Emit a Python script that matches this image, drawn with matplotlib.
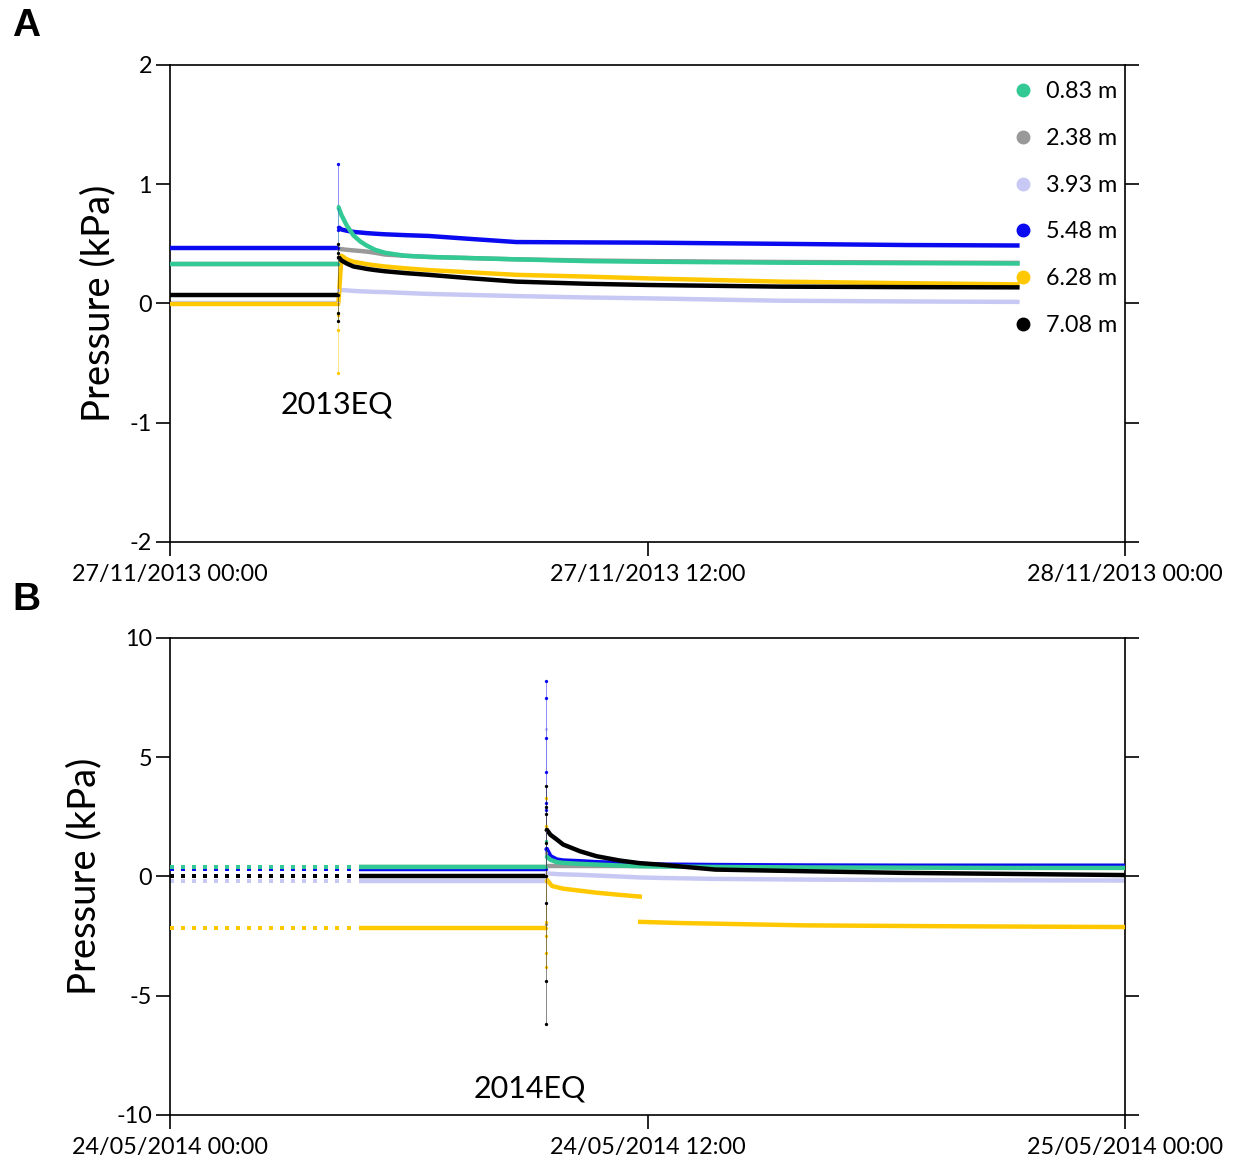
import numpy as np
import matplotlib
matplotlib.use("Agg")
import matplotlib.pyplot as plt
from matplotlib.lines import Line2D

plt.rcParams['font.family'] = ['Lato', 'DejaVu Sans']
plt.rcParams['axes.unicode_minus'] = False

# ---------------- data ----------------
depths = ["0.83 m", "2.38 m", "3.93 m", "5.48 m", "6.28 m", "7.08 m"]
colors = ["#33c994", "#999999", "#c8c8f5", "#0a0af0", "#ffc800", "#000000"]
zorders = [5, 1, 2, 4, 3, 6]

# Panel A (2013 event), time in hours after 27/11/2013 00:00
a_eq = 4.22
a_pre = [0.33, 0.33, 0.00, 0.465, -0.005, 0.075]
a_spike = [
    [0.33, 0.82],
    [0.33, 0.46],
    [0.00, 0.11],
    [0.465, 1.17, 0.64, 0.62],
    [-0.005, -0.22, -0.58, -0.10],
    [0.075, -0.15, -0.08, 0.50, 0.42, 0.39],
]
a_post_t = [4.23, 4.31, 4.44, 4.61, 4.78, 4.94, 5.15, 5.4, 5.9, 6.5, 7.6, 8.7, 10.5, 12.0, 15.35, 18.5, 21.35]
a_post = [
    [0.81, 0.74, 0.655, 0.57, 0.52, 0.486, 0.45, 0.425, 0.40, 0.39, 0.38, 0.37, 0.355, 0.35, 0.342, 0.338, 0.335],
    [0.46, 0.455, 0.45, 0.445, 0.44, 0.435, 0.425, 0.41, 0.40, 0.39, 0.38, 0.37, 0.36, 0.355, 0.348, 0.344, 0.34],
    [0.113, 0.112, 0.11, 0.105, 0.102, 0.10, 0.097, 0.095, 0.088, 0.08, 0.071, 0.062, 0.05, 0.043, 0.023, 0.017, 0.013],
    [0.64, 0.62, 0.61, 0.60, 0.595, 0.59, 0.585, 0.58, 0.573, 0.566, 0.54, 0.515, 0.512, 0.51, 0.50, 0.49, 0.486],
    [0.0, 0.40, 0.37, 0.35, 0.34, 0.33, 0.32, 0.31, 0.295, 0.28, 0.26, 0.24, 0.225, 0.21, 0.183, 0.17, 0.16],
    [0.39, 0.36, 0.335, 0.31, 0.30, 0.29, 0.28, 0.27, 0.255, 0.24, 0.21, 0.183, 0.165, 0.155, 0.141, 0.137, 0.135],
]

# Panel B (2014 event), time in hours after 24/05/2014 00:00
b_eq = 9.44
b_dot_t = np.arange(0.04, 4.55, 0.2778)   # 1000 s sampling in the early record
b_solid_start = 4.75
b_pre = [0.38, 0.38, -0.17, 0.31, -2.17, 0.0]
b_spike = [
    [0.38, 1.5, 0.85],
    [0.38, -2.0, 1.0, 0.45],
    [-0.17, 6.2, 0.13],
    [0.31, 8.2, 7.5, 5.8, 4.4, 3.1, 2.8, 1.2],
    [-2.17, 3.3, 2.1, -1.9, -2.5, -3.2, -3.8, -0.2],
    [0.0, 3.8, 2.9, 2.6, 1.4, -1.1, -4.4, -6.2, 2.0],
]
b_post_t = [9.45, 9.56, 9.72, 9.88, 10.3, 10.72, 11.3, 11.8, 12.3, 13.7, 16.0, 18.5, 21.0, 24.0]
b_post = [
    [0.85, 0.7, 0.6, 0.57, 0.53, 0.5, 0.46, 0.43, 0.42, 0.40, 0.38, 0.37, 0.36, 0.36],
    [0.45, 0.45, 0.45, 0.45, 0.45, 0.45, 0.45, 0.45, 0.45, 0.45, 0.45, 0.45, 0.45, 0.45],
    [0.13, 0.12, 0.10, 0.09, 0.07, 0.04, 0.0, -0.04, -0.06, -0.10, -0.13, -0.15, -0.16, -0.17],
    [1.2, 0.85, 0.71, 0.67, 0.64, 0.6, 0.57, 0.53, 0.5, 0.48, 0.46, 0.45, 0.45, 0.45],
    None,
    [2.0, 1.75, 1.55, 1.34, 1.06, 0.85, 0.67, 0.56, 0.5, 0.29, 0.22, 0.15, 0.11, 0.06],
]
b_yel_t1 = [9.45, 9.5, 9.6, 9.88, 10.72, 11.3, 11.86]
b_yel_v1 = [-0.1, -0.2, -0.4, -0.51, -0.68, -0.77, -0.85]
b_yel_t2 = [11.76, 12.8, 16.0, 20.0, 24.0]
b_yel_v2 = [-1.9, -1.95, -2.05, -2.09, -2.12]

a_xticklabels = ["27/11/2013 00:00", "27/11/2013 12:00", "28/11/2013 00:00"]
b_xticklabels = ["24/05/2014 00:00", "24/05/2014 12:00", "25/05/2014 00:00"]
a_yticks = [2, 1, 0, -1, -2]
b_yticks = [10, 5, 0, -5, -10]

# ---------------- figure ----------------
fig = plt.figure(figsize=(12.34, 11.6), dpi=100)
axA = fig.add_axes([0.1378, 0.5328, 0.7739, 0.4112])
axB = fig.add_axes([0.1378, 0.0388, 0.7739, 0.4112])

LW = 3.2
TICKFS = 16.8

def style(ax, yticks, xlabels, ylim):
    ax.set_xlim(0, 24)
    ax.set_ylim(*ylim)
    ax.set_xticks([0, 12, 24])
    ax.set_xticklabels(xlabels, fontsize=TICKFS)
    ax.set_yticks(yticks)
    ax.set_yticklabels([str(v) for v in yticks], fontsize=TICKFS)
    ax.tick_params(axis='both', direction='out', length=10, width=1.2)
    ax.tick_params(axis='x', pad=6)
    ax.tick_params(axis='y', right=True, pad=3)
    for s in ax.spines.values():
        s.set_linewidth(1.2)
    ax.set_ylabel("Pressure (kPa)", fontsize=27.5, labelpad=10)

def spike(ax, t, vals, c, z):
    ax.plot([t] * len(vals), vals, color=c, lw=0.6, alpha=0.45, zorder=z + 6)
    ax.plot([t] * len(vals), vals, color=c, lw=0, marker='o', ms=2.4, mew=0, zorder=z + 7)

# Panel A
for i in range(6):
    c, z = colors[i], zorders[i]
    axA.plot([0, a_eq], [a_pre[i], a_pre[i]], color=c, lw=LW, zorder=z, solid_capstyle='butt')
    spike(axA, a_eq, a_spike[i], c, z)
    axA.plot(a_post_t, a_post[i], color=c, lw=LW, zorder=z, solid_capstyle='butt')
style(axA, a_yticks, a_xticklabels, (-2, 2))
axA.text(4.2, -0.85, "2013EQ", fontsize=22, ha='center', va='center')

handles = [Line2D([], [], color=colors[i], marker='o', ms=9, lw=0, label=depths[i]) for i in range(6)]
axA.legend(handles=handles, loc='upper right', bbox_to_anchor=(1.006, 0.995), frameon=False,
           fontsize=TICKFS, labelspacing=1.1, handletextpad=0.45, handlelength=1.0,
           borderaxespad=0.2)

# Panel B
for i in range(6):
    c, z = colors[i], zorders[i]
    axB.plot(b_dot_t, [b_pre[i]] * len(b_dot_t), color=c, lw=0, marker='s', ms=2.2, mew=0, zorder=z)
    axB.plot([b_solid_start, b_eq], [b_pre[i], b_pre[i]], color=c, lw=LW, zorder=z, solid_capstyle='butt')
    spike(axB, b_eq, b_spike[i], c, z)
    if b_post[i] is not None:
        axB.plot(b_post_t, b_post[i], color=c, lw=LW, zorder=z, solid_capstyle='butt')
axB.plot(b_yel_t1, b_yel_v1, color=colors[4], lw=LW, zorder=zorders[4], solid_capstyle='butt')
axB.plot(b_yel_t2, b_yel_v2, color=colors[4], lw=LW, zorder=zorders[4], solid_capstyle='butt')
style(axB, b_yticks, b_xticklabels, (-10, 10))
axB.text(9.05, -8.9, "2014EQ", fontsize=22, ha='center', va='center')

fig.text(0.0097, 0.978, "A", fontsize=28, fontweight='bold', family='Liberation Sans', va='center')
fig.text(0.0097, 0.483, "B", fontsize=28, fontweight='bold', family='Liberation Sans', va='center')

fig.savefig("out.png", dpi=100)
